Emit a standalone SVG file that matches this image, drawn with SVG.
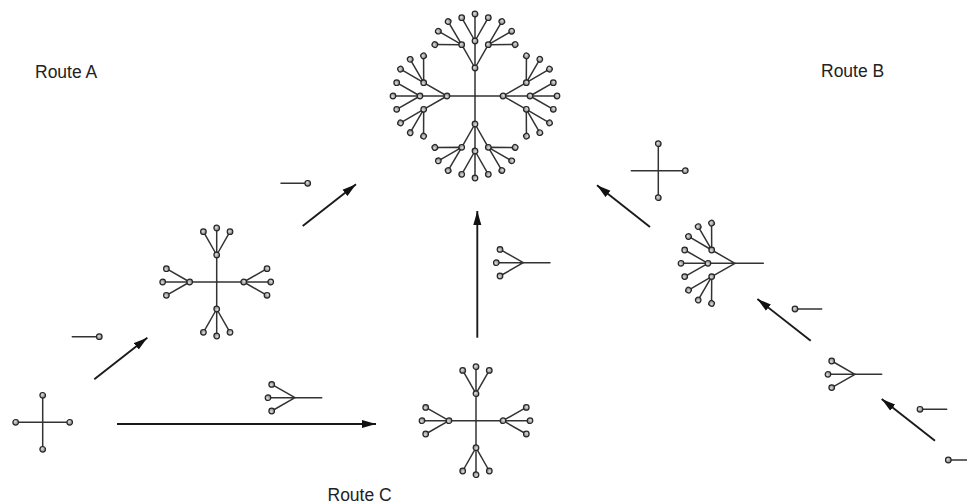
<svg xmlns="http://www.w3.org/2000/svg" width="967" height="504" viewBox="0 0 967 504">
<style>
.b{stroke:#333;stroke-width:1.5;fill:none;stroke-linecap:round}
.n{fill:url(#ball);stroke:#262626;stroke-width:1.2}
.a{stroke:#1a1a1a;stroke-width:1.9;fill:none}
.t{font-family:"Liberation Sans",Arial,sans-serif;font-size:17.5px;fill:#222}
</style>
<defs>
<radialGradient id="ball" cx="0.4" cy="0.4" r="0.7">
<stop offset="0" stop-color="#e0e0e0"/>
<stop offset="1" stop-color="#707070"/>
</radialGradient>
<marker id="ah" markerUnits="userSpaceOnUse" markerWidth="15" markerHeight="9" refX="14" refY="4.5" orient="auto">
<path d="M0,0.5 L14,4.5 L0,8.5 z" fill="#111"/>
</marker>
<g id="dA">
<path class="b" d="M0,0 L-13.3,-23.3 M0,0 L0,-27 M0,0 L13.3,-23.3"/>
<circle class="n" cx="-13.3" cy="-23.3" r="2.8"/>
<circle class="n" cx="0" cy="-27" r="2.8"/>
<circle class="n" cx="13.3" cy="-23.3" r="2.8"/>
</g>
<g id="dB">
<use href="#dA" transform="translate(-13.3,-23.3) rotate(-60)"/>
<use href="#dA" transform="translate(0,-27)"/>
<use href="#dA" transform="translate(13.3,-23.3) rotate(60)"/>
<use href="#dA"/>
</g>
<g id="armA">
<path class="b" d="M0,0 L0,-27"/>
<use href="#dA" transform="translate(0,-27)"/>
<circle class="n" cx="0" cy="-27" r="2.8"/>
</g>
<g id="armB">
<path class="b" d="M0,0 L0,-28"/>
<use href="#dB" transform="translate(0,-28)"/>
<circle class="n" cx="0" cy="-28" r="2.8"/>
</g>
</defs>
<rect width="967" height="504" fill="#fff"/>

<g id="label-route-a"><text class="t" x="35" y="77.5">Route A</text></g>
<g id="label-route-b"><text class="t" x="821" y="77">Route B</text></g>
<g id="label-route-c"><text class="t" x="327.5" y="501">Route C</text></g>

<g id="dendrimer-g2" transform="translate(475,96)">
<use href="#armB"/>
<use href="#armB" transform="rotate(90)"/>
<use href="#armB" transform="rotate(180)"/>
<use href="#armB" transform="rotate(270)"/>
</g>

<g id="core" transform="translate(42.7,422.3)">
<path class="b" d="M-27,0 L27,0 M0,-27 L0,27"/>
<circle class="n" cx="-27" cy="0" r="2.8"/>
<circle class="n" cx="27" cy="0" r="2.8"/>
<circle class="n" cx="0" cy="-27" r="2.8"/>
<circle class="n" cx="0" cy="27" r="2.8"/>
</g>

<g id="dendrimer-g1-a" transform="translate(216.7,282)">
<use href="#armA"/>
<use href="#armA" transform="rotate(90)"/>
<use href="#armA" transform="rotate(180)"/>
<use href="#armA" transform="rotate(270)"/>
</g>

<g id="dendrimer-g1-c" transform="translate(476,420.7)">
<use href="#armA"/>
<use href="#armA" transform="rotate(90)"/>
<use href="#armA" transform="rotate(180)"/>
<use href="#armA" transform="rotate(270)"/>
</g>

<g id="core-b" transform="translate(658.3,170.7)">
<path class="b" d="M-27,0 L27,0 M0,-27 L0,27"/>
<circle class="n" cx="27" cy="0" r="2.8"/>
<circle class="n" cx="0" cy="-27" r="2.8"/>
<circle class="n" cx="0" cy="27" r="2.8"/>
</g>

<g id="dendron-g2-b" transform="translate(735,263.3)">
<path class="b" d="M0,0 L28.3,0"/>
<use href="#dB" transform="rotate(-90)"/>
</g>

<g id="dendron-g1-c" transform="translate(523.3,262.7)">
<path class="b" d="M0,0 L26.7,0"/>
<use href="#dA" transform="rotate(-90)"/>
</g>

<g id="dendron-g1-c2" transform="translate(295,397.7)">
<path class="b" d="M0,0 L26.7,0"/>
<use href="#dA" transform="rotate(-90)"/>
</g>

<g id="dendron-g1-b" transform="translate(855,374.3)">
<path class="b" d="M0,0 L26.7,0"/>
<use href="#dA" transform="rotate(-90)"/>
</g>

<g id="monomer-a1"><path class="b" d="M72.3,336.7 L99.3,336.7"/><circle class="n" cx="99.3" cy="336.7" r="2.8"/></g>
<g id="monomer-a2"><path class="b" d="M281,183.3 L307.7,183.3"/><circle class="n" cx="307.7" cy="183.3" r="2.8"/></g>
<g id="monomer-b1"><path class="b" d="M795,309 L821.7,309"/><circle class="n" cx="795" cy="309" r="2.8"/></g>
<g id="monomer-b2"><path class="b" d="M920,409.3 L946.7,409.3"/><circle class="n" cx="920" cy="409.3" r="2.8"/></g>
<g id="monomer-b3"><path class="b" d="M948.3,460 L967,460"/><circle class="n" cx="948.3" cy="460" r="2.8"/></g>

<g id="connectors">
<line class="a" x1="117" y1="424" x2="376" y2="424" marker-end="url(#ah)"/>
<line class="a" x1="477.3" y1="337.7" x2="477.3" y2="211" marker-end="url(#ah)"/>
<line class="a" x1="94.3" y1="379.3" x2="147.3" y2="337.7" marker-end="url(#ah)"/>
<line class="a" x1="302.7" y1="226" x2="356" y2="184.3" marker-end="url(#ah)"/>
<line class="a" x1="650" y1="227" x2="597" y2="185.3" marker-end="url(#ah)"/>
<line class="a" x1="810.7" y1="340.7" x2="757.4" y2="299" marker-end="url(#ah)"/>
<line class="a" x1="935" y1="440.7" x2="881.7" y2="399" marker-end="url(#ah)"/>
</g>
</svg>
